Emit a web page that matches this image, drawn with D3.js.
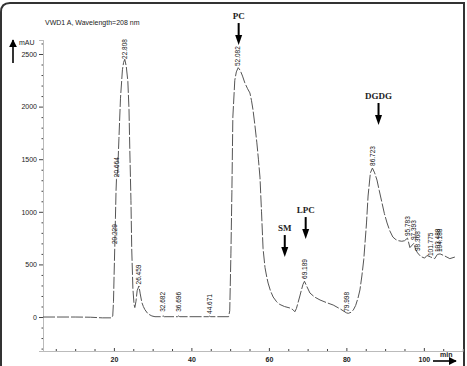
<!DOCTYPE html>
<html>
<head>
<meta charset="utf-8">
<script src="https://cdn.jsdelivr.net/npm/d3@7"></script>
<style>
body { margin: 0; background: #fff; }
svg { display: block; }
.axis text { font-family: "Liberation Sans", Arial, sans-serif; font-size: 7px; fill: #222; }
.axis path.domain { stroke: #bbb; }
.axis line { stroke: #444; }
</style>
</head>
<body>
<svg id="chart" width="467" height="366"></svg>
<script>
// chromatogram trace (time in min, signal in mAU)
var traceTime = [1.7, 10, 14, 17, 19.4, 19.7, 19.9, 20.05, 20.229, 20.4, 20.55, 20.664, 20.8, 21.0, 21.3, 21.7, 22.2, 22.5, 22.808,
	23.2, 23.6, 23.9, 24.1, 24.4, 24.6, 24.9, 25.2, 25.4, 25.7, 26.0, 26.459, 26.8, 27.2, 27.6, 28.0, 28.8, 29.8, 30.6,
	32.4, 32.682, 33.0, 36.4, 36.696, 37.0, 44.4, 44.671, 45.0, 49.6, 49.9, 50.2, 50.45, 50.7, 51.2, 51.6, 52.082,
	52.6, 53.2, 53.8, 54.5, 55.1, 55.5, 55.9, 56.4, 56.9, 57.3, 57.7, 58.1, 58.5, 59.0, 59.4, 59.8, 60.4, 61.1, 62.0, 62.8, 64.0, 65.4, 66.2, 66.7,
	67.1, 67.5, 68.0, 68.4, 68.8, 69.189,
	69.8, 70.6, 71.8, 73.2, 74.8, 76.6, 78.5, 80.0, 80.5, 81.2, 81.8, 82.4, 83.0, 83.5, 84.0, 84.5, 85.2, 85.6, 86.2, 86.723,
	87.3, 87.9, 88.5, 89.2, 89.8, 90.5, 91.2, 92.0, 92.8, 93.5, 94.3, 95.0, 95.783, 96.4, 97.393, 97.9, 98.368, 99.2, 100.2, 100.8, 101.775,
	102.8, 103.488, 104.188, 105.4, 106.7, 108.0];
var traceValue = [0, 0, -2, -8, -8, 10, 150, 400, 670, 950, 1200, 1310, 1340, 1400, 1700, 2080, 2350, 2420, 2450,
	2380, 2240, 1970, 1600, 1110, 650, 270, 120, 90, 150, 250, 295, 220, 140, 100, 70, 30, 10, 3,
	3, 12, 3, 3, 10, 3, 3, 8, 3, 3, 60, 600, 1180, 1900, 2250, 2330, 2370,
	2345, 2290, 2225, 2170, 2130, 2060, 1970, 1820, 1655, 1500, 1330, 1000, 650, 470, 390, 323, 250, 190, 145, 120, 100, 86, 70, 50,
	80, 133, 200, 257, 310, 340,
	290, 228, 190, 162, 138, 114, 75, 40, 35, 45, 67, 110, 180, 257, 390, 550, 894, 1150, 1370, 1416,
	1370, 1302, 1200, 1084, 985, 894, 820, 760, 735, 725, 720, 725, 750, 660, 700, 640, 610, 575, 560, 585, 570,
	555, 595, 600, 580, 555, 570];

// retention time labels
var peakTimes = [20.229, 20.664, 22.808, 26.459, 32.682, 36.696, 44.671, 52.082, 69.189, 79.998, 86.723,
	95.783, 97.393, 98.368, 101.775, 103.488, 104.188];
var peakHeights = [684, 1320, 2443, 300, 40, 40, 20, 2376, 352, 40, 1426, 760, 722, 618, 570, 608, 608];

// compound annotations
var compoundNames = ["PC", "SM", "LPC", "DGDG"];
var compoundTimes = [52.2, 64.1, 69.5, 88.3];
var compoundTips = [2585, 570, 741, 1825];

var yMajor = [0, 500, 1000, 1500, 2000, 2500];
var xMajor = [20, 40, 60, 80, 100];

var FONT = '"Liberation Sans", Arial, sans-serif';
var SERIF = '"Liberation Serif", "Times New Roman", serif';
var ARROW_LEN = 22;

var svg = d3.select("#chart");
var x = d3.scaleLinear().domain([1.7, 110]).range([43, 462.6]);
var y = d3.scaleLinear().domain([-323, 2633]).range([351, 40]);

// frame
svg.append("path")
	.attr("d", "M1,380 L1,12 Q1,3 10,3 L464,3 L464,380")
	.attr("fill", "none")
	.attr("stroke", "#333")
	.attr("stroke-width", 2);

svg.append("text")
	.attr("x", 45).attr("y", 25)
	.style("font-family", FONT).style("font-size", "7px").style("fill", "#222")
	.text("VWD1 A, Wavelength=208 nm");

// y axis: minor then major
var yMinor = d3.range(-300, 2601, 100).filter(function(v){ return v % 500 != 0; });
svg.append("g").attr("class", "axis").attr("transform", "translate(43,0)")
	.call(d3.axisLeft(y).tickValues(yMinor).tickSize(1.5).tickFormat(""))
	.call(function(g){ g.selectAll("line").attr("stroke", "#888"); });
svg.append("g").attr("class", "axis").attr("transform", "translate(43,0)")
	.call(d3.axisLeft(y).tickValues(yMajor).tickSize(4).tickPadding(2).tickFormat(d3.format("d")));

// x axis
var xMinor = d3.range(5, 110, 5).filter(function(v){ return v % 20 != 0; });
svg.append("g").attr("class", "axis").attr("transform", "translate(0,351)")
	.call(d3.axisBottom(x).tickValues(xMinor).tickSize(-2).tickFormat(""))
	.call(function(g){ g.select(".domain").attr("stroke", "#777"); g.selectAll("line").attr("stroke", "#888"); });
svg.append("g").attr("class", "axis").attr("transform", "translate(0,351)")
	.call(d3.axisBottom(x).tickValues(xMajor).tickSize(-3).tickPadding(6).tickFormat(d3.format("d")))
	.call(function(g){ g.select(".domain").remove(); g.selectAll("text").style("font-weight", "bold"); });

// axis unit labels with arrows
var defs = svg.append("defs");
defs.append("marker").attr("id", "head")
	.attr("viewBox", "0 0 10 10").attr("refX", 9).attr("refY", 5)
	.attr("markerWidth", 5).attr("markerHeight", 5).attr("orient", "auto")
	.append("path").attr("d", "M0,0 L10,5 L0,10 z").attr("fill", "#000");

svg.append("line").attr("x1", 13).attr("y1", 63).attr("x2", 13).attr("y2", 40)
	.attr("stroke", "#000").attr("stroke-width", 1.6).attr("marker-end", "url(#head)");
svg.append("text").attr("x", 19).attr("y", 45)
	.style("font-family", FONT).style("font-size", "7px").style("fill", "#222").text("mAU");
svg.append("line").attr("x1", 433).attr("y1", 361).attr("x2", 456).attr("y2", 361)
	.attr("stroke", "#000").attr("stroke-width", 1.6).attr("marker-end", "url(#head)");
svg.append("text").attr("x", 440).attr("y", 357)
	.style("font-family", FONT).style("font-size", "7px").style("font-weight", "bold").style("fill", "#222").text("min");

// trace
var trace = traceTime.map(function(t, i){ return [t, traceValue[i]]; });
var line = d3.line()
	.x(function(d){ return x(d[0]); })
	.y(function(d){ return y(d[1]); });
svg.append("path")
	.datum(trace)
	.attr("d", line)
	.attr("fill", "none")
	.attr("stroke", "#555")
	.attr("stroke-width", 1)
	.attr("stroke-linejoin", "round")
	.attr("stroke-dasharray", "12,2");

// retention time labels, rotated
svg.append("g").selectAll("text")
	.data(peakTimes)
	.enter().append("text")
	.attr("transform", function(d, i){
		return "translate(" + x(d) + "," + (y(peakHeights[i]) - 1) + ") rotate(-90)";
	})
	.attr("dy", "0.35em")
	.style("font-family", FONT).style("font-size", "6.5px").style("fill", "#111")
	.text(function(d){ return d3.format(".3f")(d); });

// compound arrows
var comp = svg.append("g").selectAll("g")
	.data(compoundNames)
	.enter().append("g")
	.attr("transform", function(d, i){
		return "translate(" + x(compoundTimes[i]) + "," + y(compoundTips[i]) + ")";
	});
comp.append("line")
	.attr("x1", 0).attr("y1", -ARROW_LEN).attr("x2", 0).attr("y2", -9)
	.attr("stroke", "#000").attr("stroke-width", 2);
comp.append("path")
	.attr("d", "M-3.5,-10 L3.5,-10 L0,0 Z")
	.attr("fill", "#000");
comp.append("text")
	.attr("x", 0).attr("y", -ARROW_LEN - 4)
	.attr("text-anchor", "middle")
	.style("font-family", SERIF).style("font-size", "9px").style("font-weight", "bold").style("fill", "#222")
	.text(function(d){ return d; });
</script>
</body>
</html>
